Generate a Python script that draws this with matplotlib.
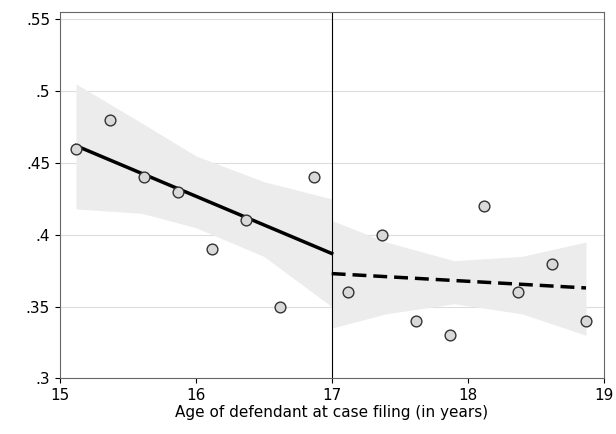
import numpy as np
import matplotlib.pyplot as plt

# binned means
x_left = [15.12, 15.37, 15.62, 15.87, 16.12, 16.37, 16.62, 16.87]
y_left = [0.46, 0.48, 0.44, 0.43, 0.39, 0.41, 0.35, 0.44]
x_right = [17.12, 17.37, 17.62, 17.87, 18.12, 18.37, 18.62, 18.87]
y_right = [0.36, 0.40, 0.34, 0.33, 0.42, 0.36, 0.38, 0.34]

# fitted lines
fit_left_x = [15.12, 17.0]
fit_left_y = [0.462, 0.387]
fit_right_x = [17.0, 18.87]
fit_right_y = [0.373, 0.363]

# confidence bands
band_left_x = [15.12, 15.6, 16.0, 16.5, 17.0]
band_left_lo = [0.418, 0.415, 0.405, 0.385, 0.350]
band_left_hi = [0.505, 0.478, 0.455, 0.437, 0.425]
band_right_x = [17.0, 17.4, 17.9, 18.4, 18.87]
band_right_lo = [0.335, 0.345, 0.352, 0.345, 0.330]
band_right_hi = [0.410, 0.395, 0.382, 0.385, 0.395]

fig, ax = plt.subplots(figsize=(6.16, 4.34), dpi=100)
fig.subplots_adjust(left=0.097, right=0.98, top=0.972, bottom=0.128)

ax.fill_between(band_left_x, band_left_lo, band_left_hi, color='#ececec', lw=0)
ax.fill_between(band_right_x, band_right_lo, band_right_hi, color='#ececec', lw=0)
ax.plot(fit_left_x, fit_left_y, color='black', lw=2.5)
ax.plot(fit_right_x, fit_right_y, color='black', lw=2.5, ls=(0, (4, 2)))
ax.scatter(x_left + x_right, y_left + y_right, s=60, facecolor='#d9d9d9',
           edgecolor='#333333', lw=1, zorder=3)
ax.axvline(17, color='black', lw=0.8)

ax.set_xlim(15, 19)
ax.set_ylim(0.3, 0.555)
ax.set_xticks([15, 16, 17, 18, 19])
yt = [0.3, 0.35, 0.4, 0.45, 0.5, 0.55]
ax.set_yticks(yt)
ax.set_yticklabels([('%.2f' % v).rstrip('0').lstrip('0') for v in yt])
ax.grid(axis='y', color='#dddddd', lw=0.8)
ax.set_axisbelow(True)
ax.tick_params(labelsize=11)
ax.set_xlabel('Age of defendant at case filing (in years)', fontsize=11, labelpad=1)
for s in ax.spines.values():
    s.set_color('#666666')

fig.savefig('out.png')
